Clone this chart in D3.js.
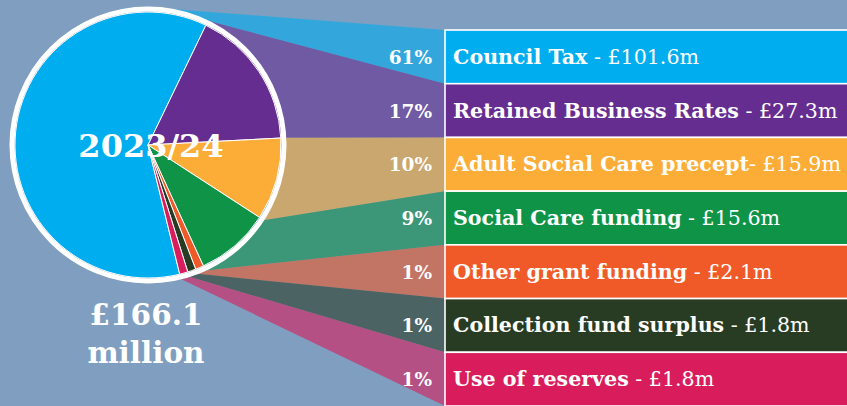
<!DOCTYPE html>
<html><head><meta charset="utf-8">
<script src="https://cdn.jsdelivr.net/npm/d3@7"></script>
<style>html,body{margin:0;padding:0;background:#809fc0;}svg{display:block}</style>
</head><body>
<svg id="c" width="847" height="406"></svg>
<script>
const categories = ["Council Tax","Retained Business Rates","Adult Social Care precept","Social Care funding","Other grant funding","Collection fund surplus","Use of reserves"];
const separators = [" - "," - ","- "," - "," - "," - "," - "];
const amounts = [101.6, 27.3, 15.9, 15.6, 2.1, 1.8, 1.8];
const amountLabels = ["£101.6m","£27.3m","£15.9m","£15.6m","£2.1m","£1.8m","£1.8m"];
const percents = [61, 17, 10, 9, 1, 1, 1];
const colors = ["#00aeef","#662d91","#fbad37","#0f9347","#f05a28","#283c24","#d91d5c"];
const yearLabel = "2023/24";
const totalLabel = ["£166.1","million"];

const W = 847, H = 406;
const svg = d3.select("#c");
svg.append("rect").attr("width",W).attr("height",H).attr("fill","#809fc0");

const cx = 148, cy = 145, R = 133, ringR = 136;
const deg = Math.PI/180;
const pie = d3.pie().sort(null).value(d=>d.p).startAngle(-193.8*deg).endAngle(166.2*deg);
const data = categories.map((c,i)=>({c, p:percents[i], a:amounts[i], col:colors[i], i}));
const arcs = pie(data);

const rowX = 445;
const y = d3.scaleBand().domain(categories).range([30, 406]).padding(0);

// connector bands
const pt = (a,r)=>[cx + r*Math.sin(a), cy - r*Math.cos(a)];
svg.append("g").selectAll("path").data(arcs).join("path")
  .attr("d", d=>{
    let a0 = d.startAngle, a1 = d.endAngle;
    if (a1 - a0 > Math.PI) a0 = a1 - 16*deg;
    const p0 = pt(a0, ringR+2), p1 = pt(a1, ringR+2);
    const yt = y(d.data.c), yb = yt + y.bandwidth();
    return d3.line()([p0,[rowX,yt],[rowX,yb],p1]) + "Z";
  })
  .attr("fill", d=>d.data.col).attr("fill-opacity",0.6);

// pie
const g = svg.append("g").attr("transform",`translate(${cx},${cy})`);
g.selectAll("path").data(arcs).join("path")
  .attr("d", d3.arc().innerRadius(0).outerRadius(R))
  .attr("fill", d=>d.data.col).attr("stroke","#fff").attr("stroke-width",1);
g.append("circle").attr("r", ringR).attr("fill","none").attr("stroke","#fff").attr("stroke-width",5);

// rows
const rows = svg.append("g");
rows.selectAll("rect").data(data).join("rect")
  .attr("x", rowX).attr("y", d=>y(d.c)).attr("width", W-rowX+5).attr("height", y.bandwidth())
  .attr("fill", d=>d.col).attr("stroke","#fff").attr("stroke-width",1.6);

const serif = "'DejaVu Serif', serif";
const t = rows.selectAll("text.lab").data(data).join("text").attr("class","lab")
  .attr("x", 453).attr("y", d=>y(d.c)+y.bandwidth()/2+7)
  .attr("fill","#fff").attr("font-family",serif).attr("font-size",20.6);
t.append("tspan").attr("font-weight","bold").text(d=>d.c);
t.append("tspan").attr("font-weight","normal").text(d=>separators[d.i] + amountLabels[d.i]);

svg.selectAll("text.pct").data(data).join("text").attr("class","pct")
  .attr("x", 432).attr("y", d=>y(d.c)+y.bandwidth()/2+7)
  .attr("text-anchor","end").attr("fill","#fff").attr("font-family",serif)
  .attr("font-weight","bold").attr("font-size",18.5).text(d=>d.p+"%");

svg.append("text").attr("x",151).attr("y",157).attr("text-anchor","middle")
  .attr("fill","#fff").attr("font-family",serif).attr("font-weight","bold").attr("font-size",32)
  .text(yearLabel);
svg.selectAll("text.tot").data(totalLabel).join("text").attr("class","tot")
  .attr("x",146).attr("y",(d,i)=>325+i*38).attr("text-anchor","middle")
  .attr("fill","#fff").attr("font-family",serif).attr("font-weight","bold").attr("font-size",29.5)
  .text(d=>d);
</script>
</body></html>
